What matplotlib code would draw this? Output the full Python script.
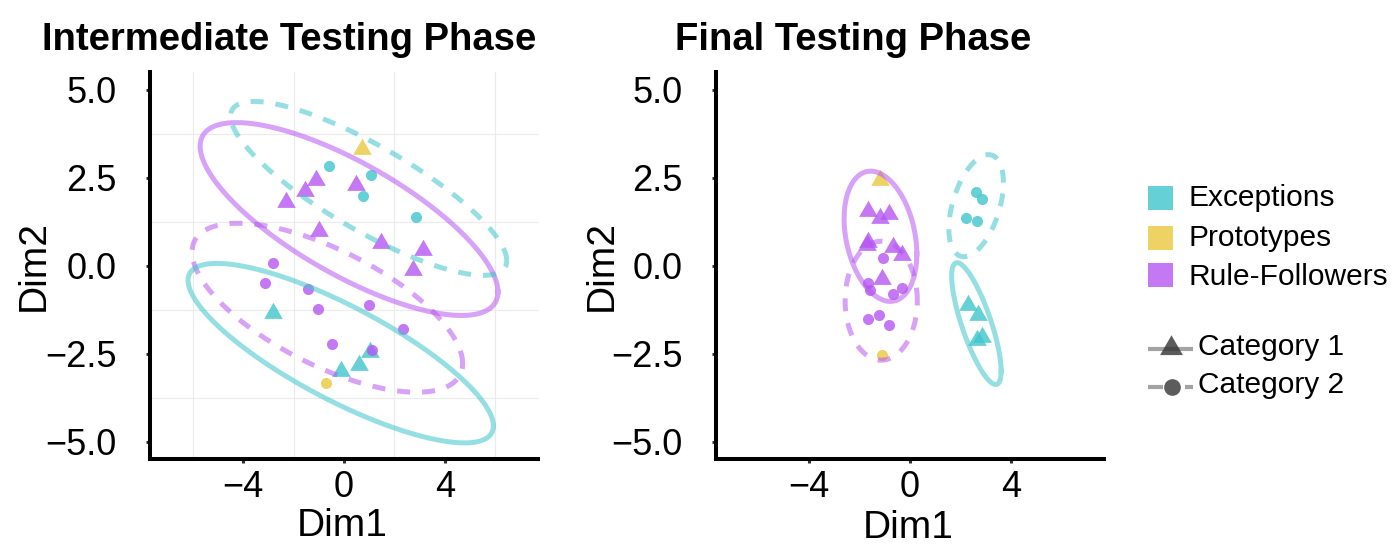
import numpy as np
import matplotlib
matplotlib.use("Agg")
import matplotlib.pyplot as plt
from matplotlib.path import Path

plt.rcParams['font.family'] = ['Liberation Sans', 'DejaVu Sans']

# ---------------- data ----------------
groups = ["Exceptions", "Prototypes", "Rule-Followers"]
categories = ["Category 1", "Category 2"]

# Intermediate testing phase
int_x = [-0.61, 1.07, 0.74, 2.86,
         -2.83, -0.13, 0.61, 1.03,
         0.70, -0.71,
         -1.12, -1.55, -2.31, 0.48, -0.99, 1.47, 3.12, 2.75,
         -2.82, -3.12, -1.44, -1.03, 0.98, 2.34, -0.46, 1.10]
int_y = [2.82, 2.57, 1.97, 1.37,
         -1.36, -2.99, -2.82, -2.46,
         3.31, -3.33,
         2.44, 2.12, 1.79, 2.28, 0.98, 0.63, 0.43, -0.13,
         0.08, -0.51, -0.67, -1.23, -1.13, -1.80, -2.24, -2.41]
int_group = ["Exceptions"] * 8 + ["Prototypes"] * 2 + ["Rule-Followers"] * 16
int_cat = ([2] * 4 + [1] * 4 + [1, 2] + [1] * 8 + [2] * 8)

# Final testing phase
fin_x = [2.61, 2.86, 2.20, 2.67,
         2.29, 2.68, 2.84, 2.64,
         -1.19, -1.12,
         -1.65, -1.19, -0.82, -1.65, -1.69, -0.69, -0.33, -1.12,
         -1.06, -1.65, -1.58, -0.33, -0.66, -1.68, -1.23, -0.83]
fin_y = [2.08, 1.89, 1.36, 1.26,
         -1.13, -1.41, -2.03, -2.11,
         2.43, -2.53,
         1.54, 1.35, 1.47, 0.67, 0.59, 0.53, 0.29, -0.37,
         0.22, -0.51, -0.70, -0.65, -0.82, -1.51, -1.40, -1.70]
fin_group = ["Exceptions"] * 8 + ["Prototypes"] * 2 + ["Rule-Followers"] * 16
fin_cat = ([2] * 4 + [1] * 4 + [1, 2] + [1] * 8 + [2] * 8)

# 95% ellipses (centre, x half-extent, y half-extent, correlation)
int_ell_group = ["Rule-Followers", "Exceptions", "Rule-Followers", "Exceptions"]
int_ell_cat = [1, 2, 2, 1]
int_ell_cx = [0.20, 0.98, -0.66, -0.13]
int_ell_cy = [1.32, 2.19, -1.20, -2.49]
int_ell_rx = [5.91, 5.48, 5.37, 6.06]
int_ell_ry = [2.74, 2.47, 2.40, 2.55]
int_ell_rho = [-0.755, -0.83, -0.66, -0.81]

fin_ell_group = ["Rule-Followers", "Rule-Followers", "Exceptions", "Exceptions"]
fin_ell_cat = [1, 2, 2, 1]
fin_ell_cx = [-1.17, -1.14, 2.62, 2.63]
fin_ell_cy = [0.83, -1.00, 1.70, -1.65]
fin_ell_rx = [1.44, 1.43, 1.08, 0.98]
fin_ell_ry = [1.85, 1.69, 1.45, 1.73]
fin_ell_rho = [-0.27, 0.0, 0.45, -0.78]

x_ticks = [-4, 0, 4]
y_ticks = [-5.0, -2.5, 0.0, 2.5, 5.0]
titles = ["Intermediate Testing Phase", "Final Testing Phase"]

# ---------------- style ----------------
base_col = {"Exceptions": "#3EC6CC", "Prototypes": "#ECC73D", "Rule-Followers": "#B656F2"}
PT_ALPHA = 0.8
ELL_ALPHA = 0.55
tri = Path([(0, 1), (-0.866, -0.5), (0.866, -0.5), (0, 1)],
           [Path.MOVETO, Path.LINETO, Path.LINETO, Path.CLOSEPOLY])

W, H = 1394, 545
fig = plt.figure(figsize=(W / 100, H / 100), dpi=100)


def fx(px):
    return px / W


def fy(py):
    return 1 - py / H


ax_top, ax_bot = 71.9, 459.1
axes_px = [(150, 538), (715.6, 1104.4)]


def draw_panel(ax, xs, ys, gs, cs, eg, ec, ecx, ecy, erx, ery, erho, grid):
    for g in groups:
        for c in (1, 2):
            px = [x for x, gg, cc in zip(xs, gs, cs) if gg == g and cc == c]
            py = [y for y, gg, cc in zip(ys, gs, cs) if gg == g and cc == c]
            if not px:
                continue
            if c == 1:
                ax.plot(px, py, linestyle='none', marker=tri, markersize=15.5,
                        color=base_col[g], alpha=PT_ALPHA, markeredgewidth=0, zorder=3)
            else:
                ax.plot(px, py, linestyle='none', marker='o', markersize=8.0,
                        color=base_col[g], alpha=PT_ALPHA, markeredgewidth=0, zorder=3)
    t = np.linspace(0, 2 * np.pi, 400)
    for g, c, cx, cy, rx, ry, rho in zip(eg, ec, ecx, ecy, erx, ery, erho):
        ex = cx + rx * np.cos(t)
        ey = cy + ry * (rho * np.cos(t) + np.sqrt(1 - rho ** 2) * np.sin(t))
        ls = '-' if c == 1 else (0, (2.6, 2.4))
        ax.plot(ex, ey, color=base_col[g], alpha=ELL_ALPHA, linewidth=3.6,
                linestyle=ls, dash_capstyle='butt', zorder=4)
    ax.set_xlim(-7.7, 7.7)
    ax.set_ylim(-5.5, 5.5)
    ax.set_xticks(x_ticks)
    ax.set_xticklabels([f"{v:g}".replace('-', '\u2212') for v in x_ticks])
    ax.set_yticks(y_ticks)
    ax.set_yticklabels([f"{v:.1f}".replace('-', '\u2212') for v in y_ticks])
    if grid:
        ax.set_xticks([-6, -2, 2, 6], minor=True)
        ax.set_yticks([-3.75, -1.25, 1.25, 3.75], minor=True)
        ax.grid(which='minor', color='#EBEBEB', linewidth=0.8, zorder=0)
        ax.tick_params(which='minor', length=0)
    for s in ('top', 'right'):
        ax.spines[s].set_visible(False)
    for s in ('left', 'bottom'):
        ax.spines[s].set_linewidth(2.9)
        ax.spines[s].set_color('black')
        ax.spines[s].set_capstyle('projecting')
    ax.tick_params(which='major', axis='both', length=3, width=2.2, color='#333333',
                   labelsize=26, labelcolor='black')
    ax.tick_params(axis='y', pad=21)
    ax.tick_params(axis='x', pad=5)
    ax.set_axisbelow(True)


ax1 = fig.add_axes([fx(axes_px[0][0]), fy(ax_bot), (axes_px[0][1] - axes_px[0][0]) / W,
                    (ax_bot - ax_top) / H])
ax2 = fig.add_axes([fx(axes_px[1][0]), fy(ax_bot), (axes_px[1][1] - axes_px[1][0]) / W,
                    (ax_bot - ax_top) / H])
draw_panel(ax1, int_x, int_y, int_group, int_cat, int_ell_group, int_ell_cat,
           int_ell_cx, int_ell_cy, int_ell_rx, int_ell_ry, int_ell_rho, True)
draw_panel(ax2, fin_x, fin_y, fin_group, fin_cat, fin_ell_group, fin_ell_cat,
           fin_ell_cx, fin_ell_cy, fin_ell_rx, fin_ell_ry, fin_ell_rho, False)

# titles and axis labels
fig.text(fx(289), fy(50.5), titles[0], fontsize=27.5, fontweight='bold', ha='center', va='baseline')
fig.text(fx(853), fy(50.5), titles[1], fontsize=27.5, fontweight='bold', ha='center', va='baseline')
for cxp, yb in ((342, 536.5), (908, 537.5)):
    fig.text(fx(cxp), fy(yb), "Dim1", fontsize=28, ha='center', va='baseline')
for xb in (43.3, 611.7):
    fig.text(fx(xb), fy(265.5), "Dim2", fontsize=28, ha='center', va='baseline',
             rotation=90, rotation_mode='anchor')

# legend (drawn in pixel coordinates)
lax = fig.add_axes([0, 0, 1, 1], zorder=5)
lax.set_xlim(0, W)
lax.set_ylim(H, 0)
lax.axis('off')
sq_y = [198, 238, 275.3]
txt_base = [206, 246, 285]
for g, yc, yb in zip(groups, sq_y, txt_base):
    lax.add_patch(plt.Rectangle((1148.3, yc - 12), 24.4, 24, facecolor=base_col[g],
                                alpha=PT_ALPHA, edgecolor='none'))
    lax.text(1188.3, yb, g, fontsize=21.5, ha='left', va='baseline')
# category keys
key_y = [349.3, 387.3]
cat_base = [355, 393]
lax.plot([1148.3, 1193.3], [key_y[0]] * 2, color='#333333', alpha=0.45, linewidth=3,
         solid_capstyle='butt')
lax.plot([1171.3], [key_y[0] - 1.5], marker=tri, markersize=19, color='#333333',
         alpha=0.8, markeredgewidth=0, linestyle='none')
lax.plot([1148.3, 1163.3], [key_y[1]] * 2, color='#333333', alpha=0.45, linewidth=3,
         solid_capstyle='butt')
lax.plot([1185, 1193.3], [key_y[1]] * 2, color='#333333', alpha=0.45, linewidth=3,
         solid_capstyle='butt')
lax.plot([1171.7], [key_y[1]], marker='o', markersize=12, color='#333333',
         alpha=0.8, markeredgewidth=0, linestyle='none')
for c, yb in zip(categories, cat_base):
    lax.text(1198.3, yb, c, fontsize=21.5, ha='left', va='baseline')

fig.savefig("out.png", dpi=100)
